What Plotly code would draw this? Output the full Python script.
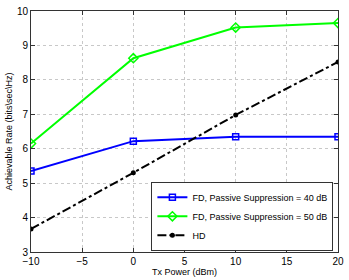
import plotly.graph_objects as go

tx_power = [-10, 0, 10, 20]
fd_40 = [5.35, 6.22, 6.35, 6.35]
fd_50 = [6.15, 8.63, 9.52, 9.65]
hd = [3.67, 5.30, 6.98, 8.52]

x_ticks = [-10, -5, 0, 5, 10, 15, 20]
x_tick_text = ["\u221210", "\u22125", "0", "5", "10", "15", "20"]
y_ticks = [3, 4, 5, 6, 7, 8, 9, 10]

fig = go.Figure()
fig.add_trace(go.Scatter(x=tx_power, y=fd_40, mode="lines+markers",
                         name="FD, Passive Suppression = 40 dB",
                         line=dict(color="#0000ff", width=2),
                         marker=dict(symbol="square-open", size=6, color="#0000ff", line=dict(width=1.5))))
fig.add_trace(go.Scatter(x=tx_power, y=fd_50, mode="lines+markers",
                         name="FD, Passive Suppression = 50 dB",
                         line=dict(color="#00ff00", width=2),
                         marker=dict(symbol="diamond-open", size=7, color="#00ff00", line=dict(width=1.5))))
fig.add_trace(go.Scatter(x=tx_power, y=hd, mode="lines+markers",
                         name="HD",
                         line=dict(color="#000000", width=2, dash="dashdot"),
                         marker=dict(symbol="circle", size=5, color="#000000")))

axis_common = dict(showline=True, linecolor="#333333", linewidth=1, mirror="ticks",
                   ticks="inside", ticklen=4, tickcolor="#333333",
                   showgrid=True, gridcolor="#c8c8c8", griddash="dot", gridwidth=1,
                   zeroline=False, automargin=False, tickfont=dict(size=10, color="#000000"))

fig.update_layout(
    width=349, height=280,
    margin=dict(l=31, r=11, t=11, b=28),
    paper_bgcolor="white", plot_bgcolor="white",
    font=dict(family="Liberation Sans, Arial, sans-serif", size=9, color="#000000"),
    showlegend=True,
    legend=dict(x=0.985, y=0.005, xanchor="right", yanchor="bottom",
                bgcolor="white", bordercolor="#333333", borderwidth=1,
                font=dict(size=9), tracegroupgap=0, itemwidth=30),
    xaxis=dict(range=[-10, 20], tickvals=x_ticks, ticktext=x_tick_text, ticklabelstandoff=0,
               title=dict(text="Tx Power (dBm)", font=dict(size=9), standoff=2), **axis_common),
    yaxis=dict(range=[3, 10], tickvals=y_ticks, ticklabelstandoff=0,
               title=dict(text="Achievable Rate (bits\\sec\\Hz)", font=dict(size=9), standoff=2), **axis_common),
)

fig.write_html("out.html", config={"displayModeBar": False},
               post_script="document.body.style.margin='0';")
